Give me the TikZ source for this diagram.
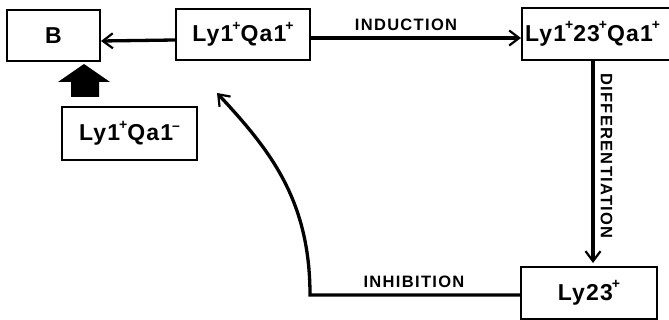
\documentclass[tikz,border=0pt]{standalone}
\usepackage{fontspec}
\setmainfont{Liberation Sans}
\newfontfamily\lblfont[LetterSpace=8]{Liberation Sans}
\newfontfamily\boxfont[LetterSpace=5]{Liberation Sans}
\usetikzlibrary{arrows.meta}
\newcommand\upp[1]{\kern-1pt\raisebox{11.5pt}{\fontsize{14}{14}\selectfont\bfseries #1}}
\newcommand\dwn[1]{\kern-1pt\raisebox{10.5pt}{\fontsize{14}{14}\selectfont\bfseries #1}}
\begin{document}
\begin{tikzpicture}[x=1pt,y=-1pt,
  box/.style={draw,line width=2pt,inner sep=0pt},
  conn/.style={line width=3.3pt,-{Straight Barb[length=10pt,width=15pt,line width=2.2pt]}},
  lbl/.style={font=\lblfont\bfseries\fontsize{16.5}{16.5}\selectfont,inner sep=0pt},
  bxt/.style={font=\boxfont\bfseries\fontsize{23}{23}\selectfont}]
\useasboundingbox (0,0) rectangle (669,320);
\clip (0,0) rectangle (669,320);
% boxes
\node[box,bxt,minimum width=93pt,minimum height=51pt] (B) at (53.5,35.5) {B};
\node[box,bxt,minimum width=134pt,minimum height=51pt] (L1) at (243,34.5) {Ly1\upp{+}Qa1\upp{+}};
\node[box,bxt,minimum width=135pt,minimum height=53pt] (Lneg) at (129.5,133.5) {Ly1\upp{+}Qa1\dwn{–}};
\node[box,bxt,minimum height=52pt,text width=165pt,align=left,inner xsep=3pt,anchor=west] (L3) at (521,34) {Ly1\upp{+}23\upp{+}Qa1\upp{+}};
\node[box,bxt,minimum width=136pt,minimum height=52pt] (L23) at (589,293) {Ly23\upp{+}};
% connectors
\draw[conn] ([yshift=-5.5pt]L1.west) -- ([yshift=-5.5pt]B.east);
\draw[conn] ([yshift=-3.5pt]L1.east) -- ([yshift=-4pt]L3.west);
\draw[conn,shorten >=3pt] ([xshift=4pt]L23.north |- L3.south) -- ([xshift=4pt]L23.north);
\coordinate (corner) at (310,295);
\coordinate (inhend) at (217,93);
\draw[conn,line join=miter] ([yshift=-2pt]L23.west) -- (corner) .. controls (310,200) and (270,150) .. (inhend);
% block arrow from Ly1+Qa1- to B
\fill (58,82) -- (84,64) -- (110,82) -- (99,82) -- (99,97) -- (71,97) -- (71,82) -- cycle;
% labels
\node[lbl] (tind) at (406,24.5) {INDUCTION};
\node[lbl] (tinh) at (414,281.5) {INHIBITION};
\node[lbl,rotate=-90] (tdif) at (606.5,156) {DIFFERENTIATION};
\end{tikzpicture}
\end{document}
